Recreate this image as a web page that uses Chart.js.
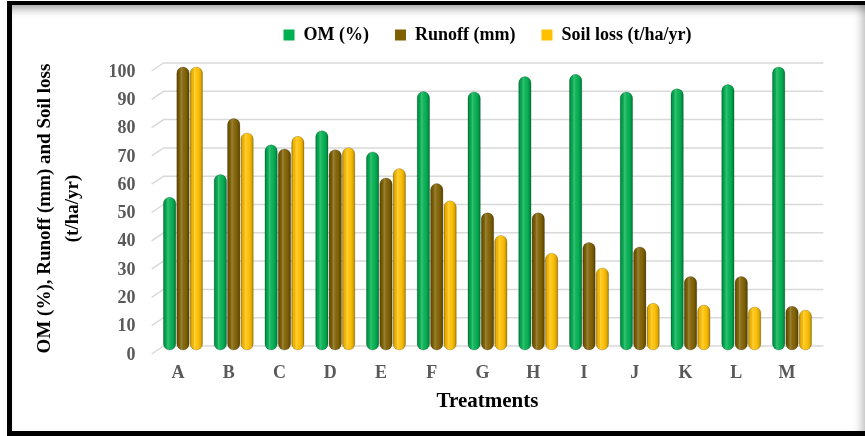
<!DOCTYPE html>
<html>
<head>
<meta charset="utf-8">
<script src="https://cdn.jsdelivr.net/npm/chart.js@4.4.1/dist/chart.umd.min.js"></script>
<style>
  html, body { margin: 0; padding: 0; background: #fff; }
  #wrap { position: relative; width: 865px; height: 436px; overflow: hidden; }
  #frame {
    position: absolute; left: 7px; top: 1px; right: 0; bottom: 0;
    border-left: 5px solid #000; border-top: 4px solid #000; border-bottom: 5px solid #000;
    box-shadow: inset 0 10px 8px -6px rgba(0,0,0,0.35), inset -10px 0 8px -6px rgba(0,0,0,0.22);
  }
  canvas { position: absolute; left: 0; top: 0; }
</style>
</head>
<body>
<div id="wrap">
  <div id="frame"></div>
  <canvas id="chart" width="865" height="436"></canvas>
</div>
<script>
// Treatments and measured values
const categories = ['A', 'B', 'C', 'D', 'E', 'F', 'G', 'H', 'I', 'J', 'K', 'L', 'M'];
const omPercent = [54, 62, 72.5, 77.5, 70, 91.3, 91.2, 96.6, 97.4, 91.2, 92.3, 93.8, 100];
const runoffMm  = [100, 81.8, 71, 70.8, 60.8, 58.8, 48.5, 48.5, 38, 36.4, 26, 26, 15.5];
const soilLoss  = [100, 76.7, 75.5, 71.5, 64.1, 52.7, 40.5, 34.2, 29, 16.5, 15.9, 15.2, 14.1];

const seriesNames = ['OM (%)', 'Runoff (mm)', 'Soil loss (t/ha/yr)'];
const seriesColors = ['#00B050', '#7F6000', '#FFC000'];
const yTitle = ['OM (%), Runoff (mm) and Soil loss', '(t/ha/yr)'];
const xTitle = 'Treatments';

const serif = '"Liberation Serif", "Times New Roman", serif';

// Back-wall gridlines with a short slanted side-wall segment on the left
const wallGrid = {
  id: 'wallGrid',
  beforeDatasetsDraw(chart) {
    const { ctx, chartArea: a, scales: { y } } = chart;
    ctx.save();
    ctx.strokeStyle = '#d9d9d9';
    ctx.lineWidth = 1.5;
    y.ticks.forEach(t => {
      const py = y.getPixelForValue(t.value);
      ctx.beginPath();
      ctx.moveTo(a.left - 6, py + 4);
      ctx.lineTo(a.left + 6, py - 4);
      ctx.lineTo(a.right + 6, py - 4);
      ctx.stroke();
    });
    ctx.restore();
  }
};

function pillPath(ctx, l, t, w, h, r) {
  ctx.beginPath();
  ctx.moveTo(l + r, t);
  ctx.lineTo(l + w - r, t);
  ctx.arcTo(l + w, t, l + w, t + r, r);
  ctx.lineTo(l + w, t + h - r);
  ctx.arcTo(l + w, t + h, l + w - r, t + h, r);
  ctx.lineTo(l + r, t + h);
  ctx.arcTo(l, t + h, l, t + h - r, r);
  ctx.lineTo(l, t + r);
  ctx.arcTo(l, t, l + r, t, r);
  ctx.closePath();
}

// Cylinder-like shading over each bar
const barShading = {
  id: 'barShading',
  afterDatasetsDraw(chart) {
    const ctx = chart.ctx;
    chart.data.datasets.forEach((ds, di) => {
      const meta = chart.getDatasetMeta(di);
      meta.data.forEach(bar => {
        const { x, y, base, width } = bar.getProps(['x', 'y', 'base', 'width'], true);
        const l = x - width / 2, top = Math.min(y, base), h = Math.abs(base - y);
        const r = Math.min(width / 2, h / 2);
        ctx.save();
        pillPath(ctx, l, top, width, h, r);
        const g = ctx.createLinearGradient(l, 0, l + width, 0);
        g.addColorStop(0, 'rgba(0,0,0,0.30)');
        g.addColorStop(0.15, 'rgba(0,0,0,0.06)');
        g.addColorStop(0.35, 'rgba(255,255,255,0.22)');
        g.addColorStop(0.55, 'rgba(255,255,255,0.05)');
        g.addColorStop(0.85, 'rgba(0,0,0,0.12)');
        g.addColorStop(1, 'rgba(0,0,0,0.32)');
        ctx.fillStyle = g;
        ctx.fill();
        ctx.lineWidth = 0.8;
        ctx.strokeStyle = 'rgba(0,0,0,0.22)';
        ctx.stroke();
        ctx.restore();
      });
    });
  }
};

// Reserve the band above the plot for the legend
const legendBand = {
  id: 'legendBand',
  afterInit(chart) {
    const fit = chart.legend.fit;
    chart.legend.fit = function () { fit.call(this); this.height = 67; };
  }
};

const values = [omPercent, runoffMm, soilLoss];

new Chart(document.getElementById('chart'), {
  type: 'bar',
  data: {
    labels: categories,
    datasets: values.map((v, i) => ({
      label: seriesNames[i],
      data: v,
      backgroundColor: seriesColors[i],
      borderWidth: 0,
      borderRadius: 7,
      borderSkipped: false,
      categoryPercentage: 0.79,
      barPercentage: 0.92
    }))
  },
  options: {
    responsive: false,
    animation: false,
    devicePixelRatio: 1,
    layout: { padding: { left: 12, right: 47.6, top: 0, bottom: 22 } },
    plugins: {
      tooltip: { enabled: false },
      legend: {
        position: 'top',
        fullSize: false,
        labels: {
          boxWidth: 11,
          boxHeight: 11,
          padding: 26,
          color: '#000',
          font: { family: serif, size: 18, weight: 'bold' }
        }
      }
    },
    scales: {
      x: {
        grid: { display: false, drawTicks: false },
        border: { display: false },
        ticks: {
          color: '#595959',
          padding: 13,
          labelOffset: -5,
          font: { family: serif, size: 18, weight: 'bold' }
        },
        title: {
          display: true,
          text: xTitle,
          color: '#000',
          padding: { top: 0, bottom: 0 },
          font: { family: serif, size: 21, weight: 'bold' }
        },
        afterFit(s) { s.height = 64; }
      },
      y: {
        min: 0,
        max: 100,
        grid: { display: false, drawTicks: false },
        border: { display: false },
        ticks: {
          stepSize: 10,
          color: '#595959',
          padding: 22,
          labelOffset: 5,
          font: { family: serif, size: 18, weight: 'bold' }
        },
        title: {
          display: true,
          text: yTitle,
          color: '#000',
          padding: { top: 19, bottom: 0 },
          font: { family: serif, size: 19, weight: 'bold', lineHeight: 1.47 }
        },
        afterFit(s) { s.width = 145.6; }
      }
    }
  },
  plugins: [legendBand, wallGrid, barShading]
});
</script>
</body>
</html>
